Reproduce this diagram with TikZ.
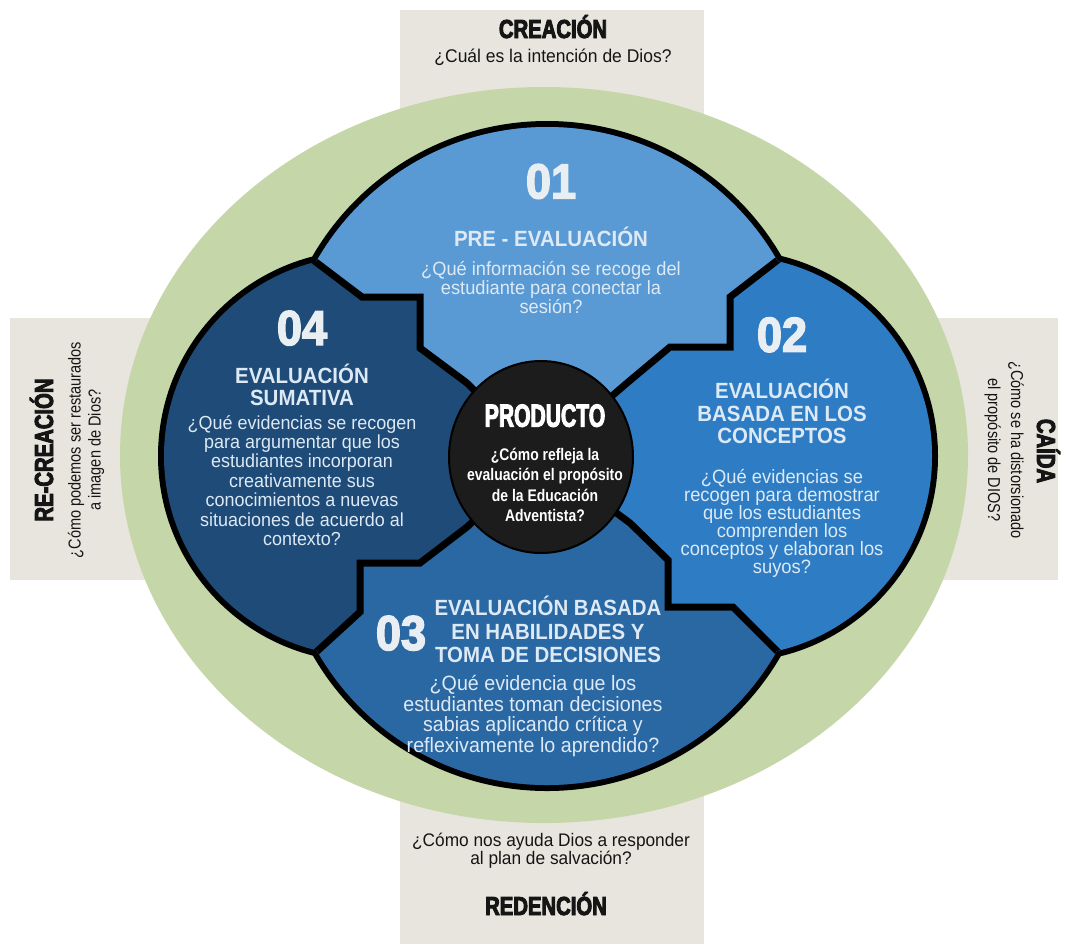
\documentclass[tikz,border=0pt]{standalone}
\usepackage{fontspec}
\setmainfont{Liberation Sans}
\newfontfamily\bodyf{Liberation Sans}[FakeStretch=0.95]
\newfontfamily\headf{Liberation Sans}[FakeStretch=0.93]
\newfontfamily\heavyf{Liberation Sans}[FakeStretch=0.78,FakeBold=3.5]
\newfontfamily\digitf{Liberation Sans}[FakeStretch=0.92,FakeBold=3]
\newfontfamily\prodf{Liberation Sans}[FakeStretch=0.66,FakeBold=3]
\newfontfamily\sidef{Liberation Sans}[FakeStretch=0.84]
\newfontfamily\coref{Liberation Sans}[FakeStretch=0.83]
\definecolor{beige}{HTML}{E7E5DD}
\definecolor{sage}{HTML}{C5D6A8}
\definecolor{qa}{HTML}{5A9AD4}
\definecolor{qb}{HTML}{2E7DC4}
\definecolor{qc}{HTML}{2A68A3}
\definecolor{qd}{HTML}{1E4B77}
\definecolor{core}{HTML}{1C1C1C}
\definecolor{txtl}{HTML}{DDE9F5}
\definecolor{digit}{HTML}{E9EEF3}
\definecolor{ink}{HTML}{151515}
\tikzset{
  lbl/.style={inner sep=0pt, outer sep=0pt, anchor=base},
  qbody/.style={lbl, text=txtl},
  qhead/.style={lbl, text=txtl, font=\headf\bfseries\fontsize{22}{22}\selectfont},
  numtxt/.style={lbl, text=digit, font=\digitf\bfseries\fontsize{49}{49}\selectfont},
  sidehead/.style={lbl, text=ink, font=\heavyf\bfseries\fontsize{26}{26}\selectfont},
  sideq/.style={lbl, text=ink, font=\bodyf\fontsize{18.4}{18}\selectfont},
  sideqv/.style={lbl, text=ink, font=\sidef\fontsize{17.3}{17}\selectfont},
  lobeline/.style={line width=7pt, black, line join=miter},
}
\begin{document}
\begin{tikzpicture}[x=1pt,y=-1pt]
\useasboundingbox (0,0) rectangle (1067,946);
\fill[white] (0,0) rectangle (1067,946);
% cross bands
\fill[beige] (400,10) rectangle (704,944);
\fill[beige] (10,318) rectangle (1058,580);
% green ring
\fill[sage] (544,455) ellipse[x radius=424pt, y radius=368pt];
% lobe outline
\draw[line width=12pt, black] (547,392) circle[radius=265pt] (732,456) circle[radius=200pt]
   (364,456) circle[radius=200pt] (547,521) circle[radius=264pt];
\begin{scope}
\clip (547,392) circle[radius=265pt] (732,456) circle[radius=200pt]
   (364,456) circle[radius=200pt] (547,521) circle[radius=264pt];
\fill[qd] (100,60) rectangle (1000,900);
\fill[qa] (541,457) -- (467,383) -- (420,348) -- (420,297) -- (362,297) -- (316,262) -- (270,227)
  -- (270,60) -- (830,60) -- (830,222) -- (777,261) -- (730,297) -- (730,347) -- (670,347)
  -- (627,383) -- cycle;
\fill[qb] (541,457) -- (627,383) -- (670,347) -- (730,347) -- (730,297) -- (777,261) -- (830,222)
  -- (1000,222) -- (1000,700) -- (830,690) -- (777,651) -- (733,607) -- (668,607) -- (668,560)
  -- (630,523) -- cycle;
\fill[qc] (541,457) -- (630,523) -- (668,560) -- (668,607) -- (733,607) -- (777,651) -- (830,690)
  -- (830,900) -- (260,900) -- (260,690) -- (317,650) -- (360,612) -- (360,563) -- (420,563)
  -- (467,527) -- cycle;
\draw[lobeline] (300,250) -- (362,297) -- (420,297) -- (420,348) -- (467,383) -- (541,457);
\draw[lobeline] (792,249) -- (730,297) -- (730,347) -- (670,347) -- (627,383) -- (541,457);
\draw[lobeline] (302,665) -- (360,612) -- (360,563) -- (420,563) -- (467,527) -- (541,457);
\draw[lobeline] (792,666) -- (733,607) -- (668,607) -- (668,560) -- (630,523) -- (541,457);
\end{scope}
% centre
\fill[core] (541,457) ellipse[x radius=92pt, y radius=96pt];
\draw[black, line width=2pt] (541,457) ellipse[x radius=92pt, y radius=96pt];

% outer labels
\node[sidehead] (creacion) at (553,38) {CREACIÓN};
\node[sideq] (creacionq) at (553,62) {¿Cuál es la intención de Dios?};
\node[inner sep=0pt, outer sep=0pt, anchor=north, align=center, text=ink,
      font={\bodyf\fontsize{18.2}{17.8}\selectfont\lineskiplimit=-50pt}] (redq) at (551,833)
      {¿Cómo nos ayuda Dios a responder\\al plan de salvación?};
\node[sidehead] (redencion) at (546,915) {REDENCIÓN};
\node[sidehead, rotate=90] (recre) at (53,450) {RE-CREACIÓN};
\node[sideqv, rotate=90] (recreq1) at (80.7,450) {¿Cómo podemos ser restaurados};
\node[sideqv, rotate=90] (recreq2) at (100.7,450) {a imagen de Dios?};
\node[sidehead, rotate=-90] (caida) at (1037,451) {CAÍDA};
\node[sideqv, rotate=-90] (caidaq1) at (1011,450) {¿Cómo se ha distorsionado};
\node[sideqv, rotate=-90] (caidaq2) at (988,450) {el propósito de DIOS?};

% numbers
\node[numtxt] (n01) at (551,198.3) {01};
\node[numtxt] (n02) at (782,351.7) {02};
\node[numtxt] (n03) at (401,650) {03};
\node[numtxt] (n04) at (302,345) {04};

% quadrant 01
\node[qhead] (h1) at (551,246.7) {PRE - EVALUACIÓN};
\node[inner sep=0pt, outer sep=0pt, anchor=north, align=center, text=txtl,
      font={\bodyf\fontsize{19.2}{18.6}\selectfont\lineskiplimit=-50pt}] (qa) at (551,261.8)
      {¿Qué información se recoge del\\estudiante para conectar la\\sesión?};

% quadrant 02
\foreach \s [count=\i] in {EVALUACIÓN, BASADA EN LOS, CONCEPTOS}
  \node[qhead] (hb\i) at (782,376+22.5*\i) {\s};
\foreach \s [count=\i] in {¿Qué evidencias se, recogen para demostrar, que los estudiantes, comprenden los, conceptos y elaboran los, suyos?}
  \node[qbody, font=\bodyf\fontsize{19.3}{19}\selectfont] (qb\i) at (782,465+18*\i) {\s};

% quadrant 03
\foreach \s [count=\i] in {EVALUACIÓN BASADA, EN HABILIDADES Y, TOMA DE DECISIONES}
  \node[qhead] (hc\i) at (548,592.5+23.3*\i) {\s};
\foreach \s [count=\i] in {¿Qué evidencia que los, estudiantes toman decisiones, sabias aplicando crítica y, reflexivamente lo aprendido?}
  \node[qbody, font=\bodyf\fontsize{20.7}{20}\selectfont] (qc\i) at (533,670+20.5*\i) {\s};

% quadrant 04
\foreach \s [count=\i] in {EVALUACIÓN, SUMATIVA}
  \node[qhead] (hd\i) at (302,361.5+21.8*\i) {\s};
\foreach \s [count=\i] in {¿Qué evidencias se recogen, para argumentar que los, estudiantes incorporan, creativamente sus, conocimientos a nuevas, situaciones de acuerdo al, contexto?}
  \node[qbody, font=\bodyf\fontsize{18.9}{19}\selectfont] (qd\i) at (302,409.6+19.4*\i) {\s};

% centre
\node[lbl, text=white, font=\prodf\bfseries\fontsize{32}{32}\selectfont] (prod) at (545,426.7) {PRODUCTO};
\foreach \s [count=\i] in {¿Cómo refleja la, evaluación el propósito, de la Educación, Adventista?}
  \node[lbl, text=white, font=\coref\bfseries\fontsize{16.8}{17}\selectfont] (pq\i) at (545,439.5+20.5*\i) {\s};
\end{tikzpicture}
\end{document}
